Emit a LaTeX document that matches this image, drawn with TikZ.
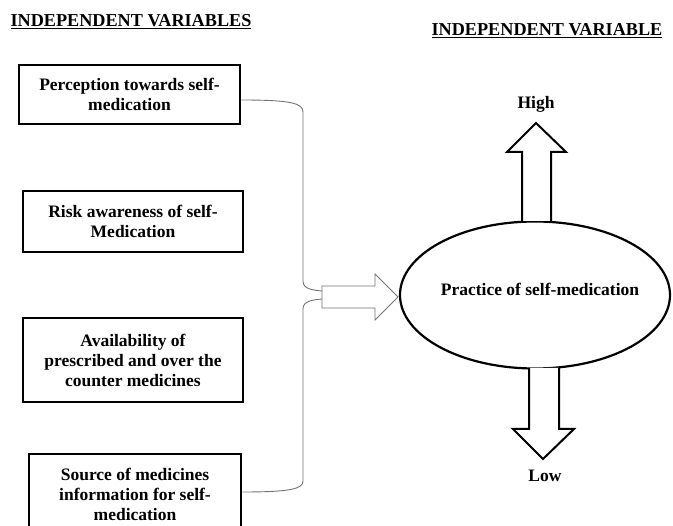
\documentclass[tikz,border=0pt]{standalone}
\usepackage{fontspec}
\setmainfont{Liberation Serif}
\usetikzlibrary{shapes.geometric}
\begin{document}
\begin{tikzpicture}[x=1pt,y=-1pt,
  varbox/.style={draw,line width=2.6pt,align=center,inner sep=0pt,font=\bfseries\fontsize{17.5}{20}\selectfont},
  bracketline/.style={draw=black!55,line width=0.9pt},
  title/.style={font=\bfseries\fontsize{18.2}{20}\selectfont,inner sep=0pt},
  lbl/.style={font=\bfseries\fontsize{17.5}{20}\selectfont,inner sep=0pt}]
\useasboundingbox (0,0) rectangle (673,526);
% titles
\node[title] (t1) at (131,22) {\underline{INDEPENDENT VARIABLES}};
\node[title] (t2) at (547,31) {\underline{INDEPENDENT VARIABLE}};
% boxes
\node[varbox,minimum width=221pt,minimum height=59pt] (b1) at (129.5,94.5) {Perception towards self-\\medication};
\node[varbox,minimum width=220pt,minimum height=61pt] (b2) at (133,221.5) {Risk awareness of self-\\Medication};
\node[varbox,minimum width=220pt,minimum height=84pt] (b3) at (133,360) {Availability of\\prescribed and over the\\counter medicines};
\node[varbox,minimum width=212pt,minimum height=80pt] (b4) at (135,494) {Source of medicines\\information for self-\\medication};
% bracket
\coordinate (c1) at (b1.east |- 0,100);
\coordinate (c4) at (b4.east |- 0,492);
\coordinate (tipA) at (322,291);
\coordinate (tipB) at (322,299);
\draw[bracketline] (c1) .. controls (290,100) and (303,103) .. (303,112) -- (303,281) .. controls (303,289) and (312,290) .. (tipA);
\draw[bracketline] (tipB) .. controls (312,300) and (303,301) .. (303,309) -- (303,481) .. controls (303,489) and (290,492) .. (c4);
% right block arrow
\draw[draw=black!55,line width=0.9pt,fill=white] (322,286) -- (375,286) -- (375,274) -- (398,297) -- (375,320) -- (375,308) -- (322,308) -- cycle;
% ellipse
\node[draw,ellipse,line width=2.2pt,minimum width=270pt,minimum height=147pt,inner sep=0pt] (e) at (535,295) {};
\node[lbl] (pt) at (540,289) {Practice of self-medication};
% high arrow
\draw[line width=2pt,fill=white,line join=miter] (522,221) -- (522,152) -- (507,152) -- (536,123) -- (566,152) -- (551,152) -- (551,221);
\node[lbl] (hi) at (536,104) {High};
% low arrow
\draw[line width=2pt,fill=white,line join=miter] (529,368) -- (529,429) -- (513,429) -- (543,459) -- (574,429) -- (559,429) -- (559,368);
\node[lbl] (lo) at (545,476) {Low};
\end{tikzpicture}
\end{document}
